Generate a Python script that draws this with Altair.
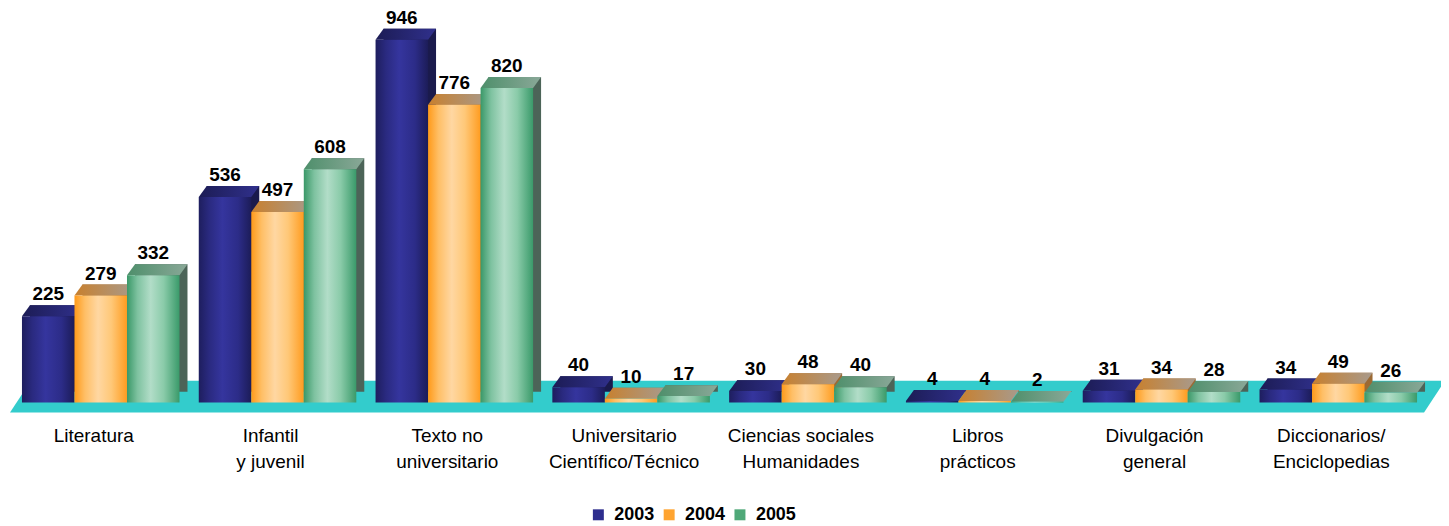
import altair as alt
import pandas as pd

categories = ["Literatura", "Infantil|y juvenil", "Texto no|universitario",
              "Universitario|Científico/Técnico", "Ciencias sociales|Humanidades",
              "Libros|prácticos", "Divulgación|general", "Diccionarios/|Enciclopedias"]
years = ["2003", "2004", "2005"]
v2003 = [225, 536, 946, 40, 30, 4, 31, 34]
v2004 = [279, 497, 776, 10, 48, 4, 34, 49]
v2005 = [332, 608, 820, 17, 40, 2, 28, 26]

rows = []
for yr, vals in zip(years, [v2003, v2004, v2005]):
    for c, v in zip(categories, vals):
        rows.append({"cat": c, "year": yr, "value": v, "zero": 0})
df = pd.DataFrame(rows)

FONT = "Liberation Sans, Arial, sans-serif"
W, H = 1417, 395
PI, PO = 0.1089, 0.0508
BW = W * (1 - PI) / (len(categories) - PI + 2 * PO)   # group band width (styling)
HALF = BW / 6
DX, DY = 8, 11

legend_colors = ["#2E2E8E", "#FFA430", "#4FA878"]
front_grad = {
    "2003": [("#1E1E5E", 0), ("#2A2A80", 0.2), ("#35359E", 0.45), ("#2C2C88", 0.75), ("#1C1C58", 1)],
    "2004": [("#FF9A1A", 0), ("#FFBF66", 0.2), ("#FFD7A2", 0.45), ("#FFC878", 0.7), ("#FF9C20", 1)],
    "2005": [("#3A9868", 0), ("#7EC2A0", 0.2), ("#B2DDC8", 0.45), ("#8ACBA9", 0.7), ("#3A9A6A", 1)],
}
top_grad = {
    "2003": [("#1C1C55", 0), ("#30308C", 1)],
    "2004": [("#C8802E", 0), ("#A89A8C", 1)],
    "2005": [("#4E8F6B", 0), ("#8AA898", 1)],
}
side_color = {"2003": "#1A1A4C", "2004": "#9C6A34", "2005": "#4C6458"}
FLOOR = "#33CCCC"


def grad(stops):
    return alt.LinearGradient(
        gradient="linear", x1=0, x2=1, y1=0, y2=0,
        stops=[alt.GradientStop(color=c, offset=o) for c, o in stops])


xscale = alt.Scale(domain=categories, paddingInner=PI, paddingOuter=PO)
xaxis = alt.Axis(title=None, domain=False, ticks=False, labelAngle=0,
                 labelFont=FONT, labelFontSize=19, labelColor="black",
                 labelPadding=24, labelLineHeight=26, labelBaseline="top",
                 labelOffset=-7,
                 labelExpr="split(datum.value, '|')")
x_enc = alt.X("cat:N", sort=categories, scale=xscale, axis=xaxis)
xo_enc = alt.XOffset("year:N", scale=alt.Scale(type="band", domain=years,
                                               paddingInner=0, paddingOuter=0,
                                               range=[0, BW]))
# back box of each bar: same sub-bands shifted by the 3-D depth
xo_back = alt.XOffset("year:N", scale=alt.Scale(type="band", domain=years,
                                                paddingInner=0, paddingOuter=0,
                                                range=[DX, DX + BW]))
y_enc = alt.Y("value:Q", scale=alt.Scale(domain=[0, 1026.6], nice=False, zero=True), axis=None)
yzero = alt.Y("zero:Q", scale=alt.Scale(domain=[0, 1026.6], nice=False, zero=True), axis=None)

base = alt.Chart(df)

# legend carrier (hidden below the floor)
legend_layer = base.mark_square(size=121, opacity=1).encode(
    x=x_enc, xOffset=xo_enc, y=yzero,
    color=alt.Color("year:N", scale=alt.Scale(domain=years, range=legend_colors),
                    legend=alt.Legend(title=None, orient="none", legendX=578, legendY=498.5,
                                      direction="horizontal", symbolType="square",
                                      symbolSize=121, symbolStrokeWidth=0, symbolOpacity=1,
                                      labelFont=FONT, labelFontSize=18, labelFontWeight="bold",
                                      labelColor="black", labelOffset=7, columnPadding=5,
                                      padding=0)))

floor_path = "M-3,10 L1415,10 L1436,-22 L18,-22 Z"
floor = alt.Chart(pd.DataFrame({"zero": [0]})).mark_point(
    shape=floor_path, size=4, filled=True, fill=FLOOR, strokeWidth=0, opacity=1
).encode(x=alt.value(0), y=yzero)

layers = [legend_layer, floor]

for yr in years:
    layers.append(base.transform_filter(alt.datum.year == yr).mark_bar(
        yOffset=-DY, y2Offset=-DY, fill=side_color[yr], strokeWidth=0
    ).encode(x=x_enc, xOffset=xo_back, y=y_enc, y2=alt.Y2("zero:Q")))

top_path = f"M{-HALF:.2f},0 L{HALF:.2f},0 L{HALF + DX:.2f},{-DY} L{-HALF + DX:.2f},{-DY} Z"
for yr in years:
    layers.append(base.transform_filter(alt.datum.year == yr).mark_point(
        shape=top_path, size=4, filled=True, fill=grad(top_grad[yr]), strokeWidth=0, opacity=1
    ).encode(x=x_enc, xOffset=xo_enc, y=y_enc))

for yr in years:
    layers.append(base.transform_filter(alt.datum.year == yr).mark_bar(
        fill=grad(front_grad[yr]), strokeWidth=0
    ).encode(x=x_enc, xOffset=xo_enc, y=y_enc, y2=alt.Y2("zero:Q")))

labels = base.mark_text(dy=-16, baseline="alphabetic", font=FONT, fontSize=19,
                        fontWeight="bold", color="black").encode(
    x=x_enc, xOffset=xo_enc, y=y_enc, text=alt.Text("value:Q"))
layers.append(labels)

chart = alt.layer(*layers).resolve_scale(xOffset="independent").properties(
    width=W, height=H,
    autosize=alt.AutoSizeParams(type="none"),
    padding={"left": 5, "top": 0, "right": 15, "bottom": 121},
).configure_view(stroke=None)

chart.save("out.html", embed_options={"renderer": "svg", "actions": False})
